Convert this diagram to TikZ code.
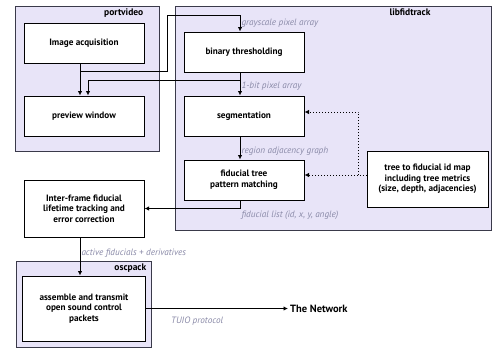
\documentclass[tikz,border=0pt]{standalone}
\usepackage{fontspec}
\setmainfont{PT Sans}
\usetikzlibrary{arrows.meta,positioning}
\definecolor{pkgfill}{HTML}{E8E4F8}
\definecolor{pkgline}{HTML}{3A3A4A}
\definecolor{flow}{HTML}{8A8AA8}

\begin{document}
\begin{tikzpicture}[
  x=1pt,y=-1pt,
  pkg/.style={draw=pkgline,line width=0.9pt,fill=pkgfill,inner sep=0pt},
  box/.style={draw=black,line width=1pt,fill=white,minimum width=120pt,minimum height=40pt,align=center,font=\fontsize{9.2}{10.6}\selectfont\bfseries},
  pkgname/.style={font=\fontsize{9.5}{11}\selectfont\bfseries,inner sep=1pt},
  flowlbl/.style={font=\fontsize{9.2}{10}\selectfont\itshape,text=flow,inner sep=1pt},
  arr/.style={-{Latex[length=4.5pt,width=4.5pt]},line width=1pt},
  dotarr/.style={arr,dotted}
]
\fill[white] (0,0) rectangle (495,348);
% packages
\node[pkg,minimum width=144pt,minimum height=145pt] (portvideo) at (87,78.5) {};
\node[pkg,minimum width=316pt,minimum height=224pt] (libfidtrack) at (333,118) {};
\node[pkg,minimum width=135pt,minimum height=86pt] (oscpack) at (83.5,304) {};
\node[pkgname,anchor=north east] (pvname) at ([xshift=-15pt,yshift=-2pt]portvideo.north east) {portvideo};
\node[pkgname,anchor=north] (lfname) at ([xshift=77pt,yshift=-2pt]libfidtrack.north) {libfidtrack};
\node[pkgname,anchor=north east] (ocname) at ([xshift=-4pt,yshift=-2pt]oscpack.north east) {oscpack};
% stages
\node[box] (acq) at (84,43) {Image acquisition};
\node[box,below=32pt of acq] (preview) {preview window};
\node[box] (binthr) at (244,52) {binary thresholding};
\node[box,below=23pt of binthr] (seg) {segmentation};
\node[box,below=23pt of seg] (fidtree) {fiducial tree\\pattern matching};
\node[box,minimum width=121pt,minimum height=56pt] (treemap) at (427.5,179) {tree to fiducial id map\\including tree metrics\\(size, depth, adjacencies)};
\node[box,minimum height=57pt] (interframe) at (84,208.5) {Inter-frame fiducial\\lifetime tracking and\\error correction};
\node[box,minimum width=123pt,minimum height=65pt,below=38pt of interframe] (assemble) {assemble and transmit\\open sound control\\packets};
\node[font=\fontsize{10.5}{12}\selectfont\bfseries,inner sep=2pt,right=142pt of assemble] (network) {The Network};
% flows
\coordinate (tap1) at ([xshift=-4pt,yshift=-8pt]acq.south);
\coordinate (bend1) at (167,15);
\draw[arr] ([xshift=-4pt]acq.south) -- ([xshift=-4pt]preview.north);
\draw[arr] (tap1) -| (bend1) -| node[flowlbl,right,pos=0.75]{grayscale pixel array} ([xshift=-4pt]binthr.north);
\draw[arr] ([xshift=-4pt]binthr.south) -- node[flowlbl,right,pos=0.6]{1-bit pixel array} ([xshift=-4pt]seg.north);
\draw[arr] ([xshift=-4pt,yshift=-8pt]binthr.south) -| ([xshift=4pt]preview.north);
\draw[arr] ([xshift=-4pt]seg.south) -- node[flowlbl,right,pos=0.65]{region adjacency graph} ([xshift=-4pt]fidtree.north);
\draw[dotarr] ([yshift=4pt]treemap.west) -- ([yshift=4pt]treemap.west -| fidtree.east);
\draw[dotarr] ([xshift=-8pt,yshift=4pt]treemap.west) |- ([yshift=4pt]seg.east);
\draw[arr] ([xshift=-4pt]fidtree.south) |- node[flowlbl,below right,pos=0.5,yshift=-1pt]{fiducial list (id, x, y, angle)} (interframe.east);
\draw[arr] ([xshift=-4pt]interframe.south) -- node[flowlbl,right,pos=0.4]{active fiducials + derivatives} ([xshift=-4pt]assemble.north);
\draw[arr] (assemble.east) -- node[flowlbl,below=7pt,pos=0.36]{TUIO protocol} (network.west);
\end{tikzpicture}
\end{document}
